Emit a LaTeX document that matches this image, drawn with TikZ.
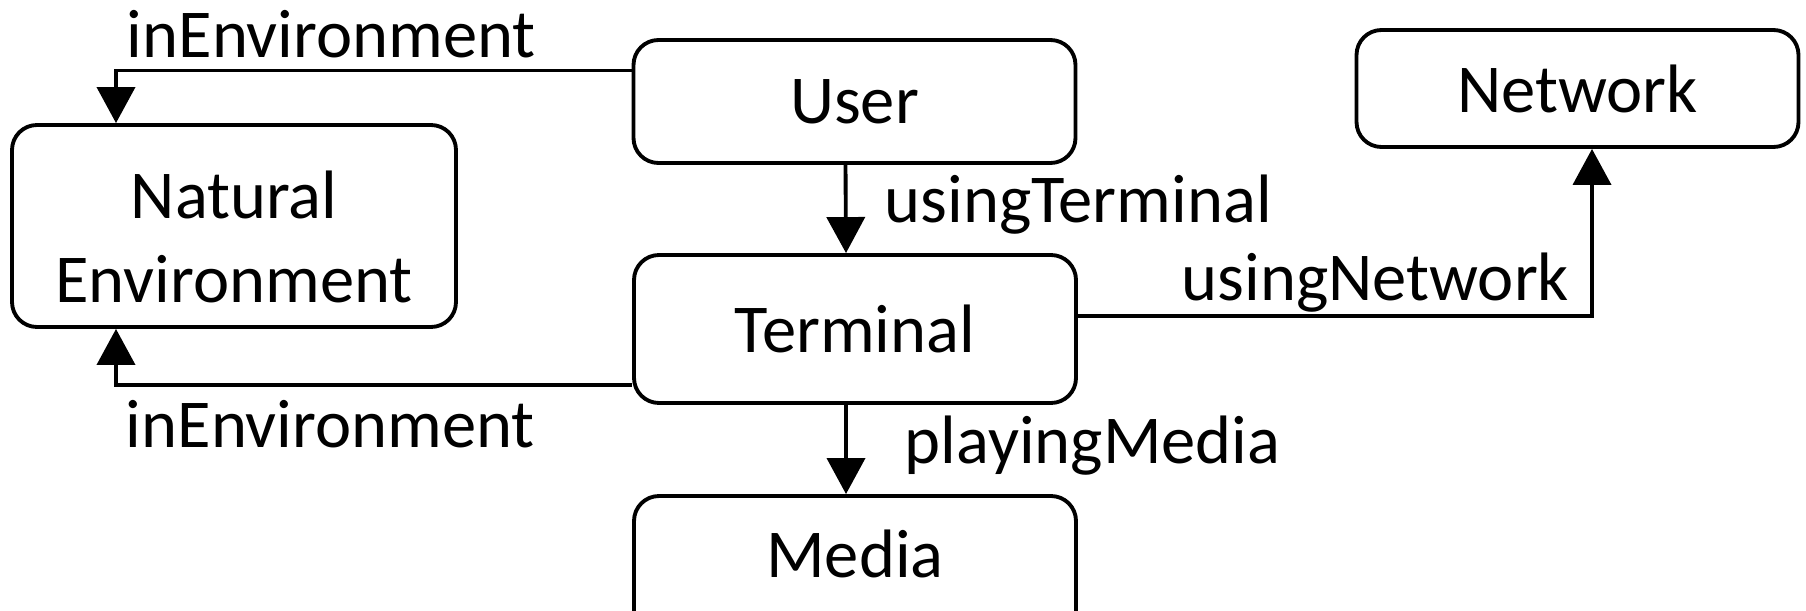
\documentclass[tikz,border=0pt]{standalone}
\usepackage{fontspec}
\setmainfont{Carlito}
\usetikzlibrary{arrows.meta}
\tikzset{
    classnode/.style={rectangle, rounded corners=0.5cm, draw=black, line width=2.2pt, minimum width=8.84cm, minimum height=2.46cm, align=center, inner sep=0pt, font=\fontsize{39}{48}\selectfont},
    arrow/.style={-{Triangle[length=0.72cm, width=0.76cm]}, line width=2.2pt, color=black},
    rellabel/.style={inner sep=0pt, font=\fontsize{39}{48}\selectfont},
}
\begin{document}
\begin{tikzpicture}
                \useasboundingbox (0,0) rectangle (36.12,12.2);

                % Classi
                \node[classnode] (user) at (17.09,10.17) {User};
                \node[classnode, minimum height=2.34cm] (network) at (31.55,10.43) {Network};
                \node[classnode, minimum width=8.88cm, minimum height=4.04cm] (natenv) at (4.68,7.68) {\\[-0.3cm]Natural\\Environment};
                \node[classnode, minimum height=2.96cm] (terminal) at (17.10,5.62) {Terminal};
                % Media esce dal bordo inferiore
                \node[classnode, minimum height=3.2cm, text depth=0.9cm] (media) at (17.10,0.68) {Media};

                % Relazioni verso l'ambiente
                \draw[arrow] ([yshift=0.62cm]user.west) -| ([xshift=-2.36cm]natenv.north)
                    node[pos=0.5, rellabel, anchor=base west, xshift=0.18cm, yshift=0.26cm] {inEnvironment};
                \draw[arrow] ([yshift=-1.12cm]terminal.west) -| ([xshift=-2.36cm]natenv.south)
                    node[pos=0.5, rellabel, anchor=base west, xshift=0.16cm, yshift=-1.24cm] {inEnvironment};

                % Relazioni verticali
                \draw[arrow] ([xshift=-0.18cm]user.south) -- ([xshift=-0.18cm]terminal.north)
                    node[midway, rellabel, anchor=base west, xshift=0.74cm, yshift=-0.26cm] {usingTerminal};
                \draw[arrow] ([xshift=-0.18cm]terminal.south) -- ([xshift=-0.18cm]media.north)
                    node[midway, rellabel, anchor=base west, xshift=1.14cm, yshift=-0.27cm] {playingMedia};

                % Relazione con la rete
                \draw[arrow] ([yshift=0.26cm]terminal.east) -| ([xshift=0.29cm]network.south)
                    node[pos=0.5, rellabel, anchor=base east, xshift=-0.42cm, yshift=0.32cm] {usingNetwork};
\end{tikzpicture}
\end{document}
